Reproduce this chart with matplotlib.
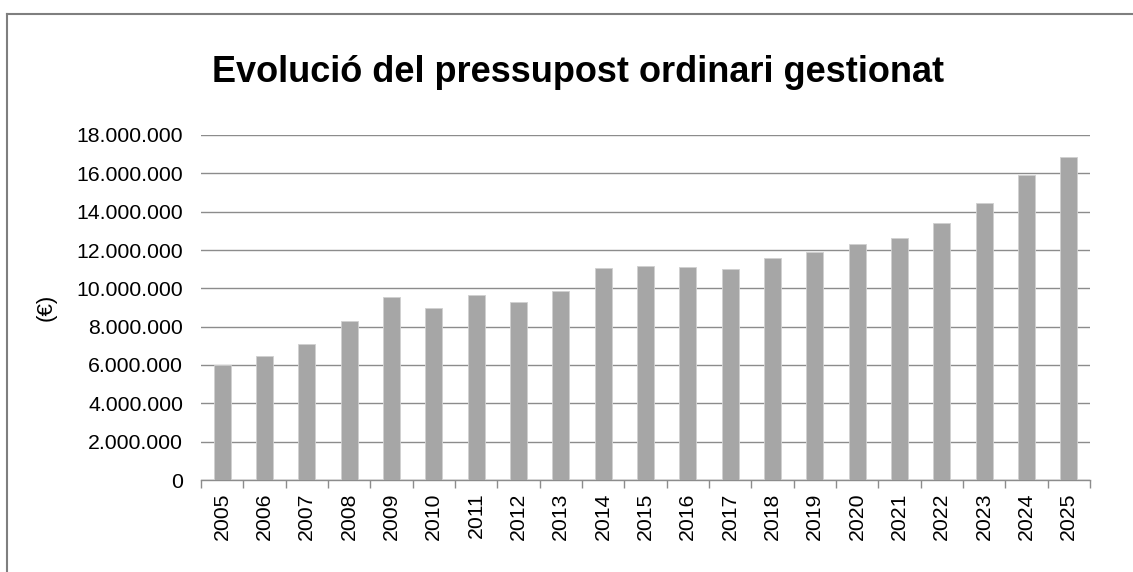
import matplotlib
matplotlib.use("Agg")
import matplotlib.pyplot as plt
from matplotlib.lines import Line2D
from matplotlib.ticker import FuncFormatter, FixedLocator

plt.rcParams['font.family'] = ['Liberation Sans', 'DejaVu Sans']

years = [str(y) for y in range(2005, 2026)]
values = [6.00e6, 6.47e6, 7.08e6, 8.31e6, 9.53e6, 8.99e6, 9.65e6, 9.29e6, 9.88e6,
          11.06e6, 11.18e6, 11.10e6, 11.01e6, 11.58e6, 11.91e6, 12.31e6, 12.61e6,
          13.43e6, 14.47e6, 15.93e6, 16.85e6]
title = "Evolució del pressupost ordinari gestionat"
ylabel = "(€)"

W, H = 1133, 572
fig = plt.figure(figsize=(W / 100, H / 100), dpi=100)
ax = fig.add_axes([201 / W, 1 - 480 / H, (1090 - 201) / W, (480 - 135) / H])

x = list(range(len(years)))
ax.bar(x, values, width=0.4, color='#A6A6A6', edgecolor='#D0D0D0', linewidth=0.6, zorder=3)

ax.set_xlim(-0.5, len(years) - 0.5)
ax.set_ylim(0, 18e6)
ax.set_yticks([i * 2e6 for i in range(10)])
ax.yaxis.set_major_formatter(FuncFormatter(lambda v, p: f"{int(v):,}".replace(",", ".")))
ax.yaxis.grid(True, color='#8C8C8C', linewidth=1.0, zorder=0)
ax.tick_params(axis='y', length=0, pad=13, labelsize=15.3)

ax.set_xticks(x)
ax.set_xticklabels(years, rotation=90, fontsize=15.3)
ax.tick_params(axis='x', which='major', length=0, pad=9)
ax.xaxis.set_minor_locator(FixedLocator([i - 0.5 for i in range(len(years) + 1)]))
ax.tick_params(axis='x', which='minor', length=6, width=1.0, color='#8C8C8C')

for s in ['top', 'right', 'left']:
    ax.spines[s].set_visible(False)
ax.spines['bottom'].set_color('#8C8C8C')
ax.spines['bottom'].set_linewidth(1.0)

ax.set_ylabel(ylabel, fontsize=16, labelpad=14)

fig.text(578 / W, 1 - 72 / H, title, ha='center', va='center', fontsize=26, fontweight='bold')

# outer border (left and top)
fig.add_artist(Line2D([6.5 / W, 6.5 / W], [0, 1 - 13.5 / H], transform=fig.transFigure,
                      color='#7F7F7F', linewidth=1.5))
fig.add_artist(Line2D([6.5 / W, 1], [1 - 13.5 / H, 1 - 13.5 / H], transform=fig.transFigure,
                      color='#7F7F7F', linewidth=1.5))

fig.savefig("out.png", dpi=100)
